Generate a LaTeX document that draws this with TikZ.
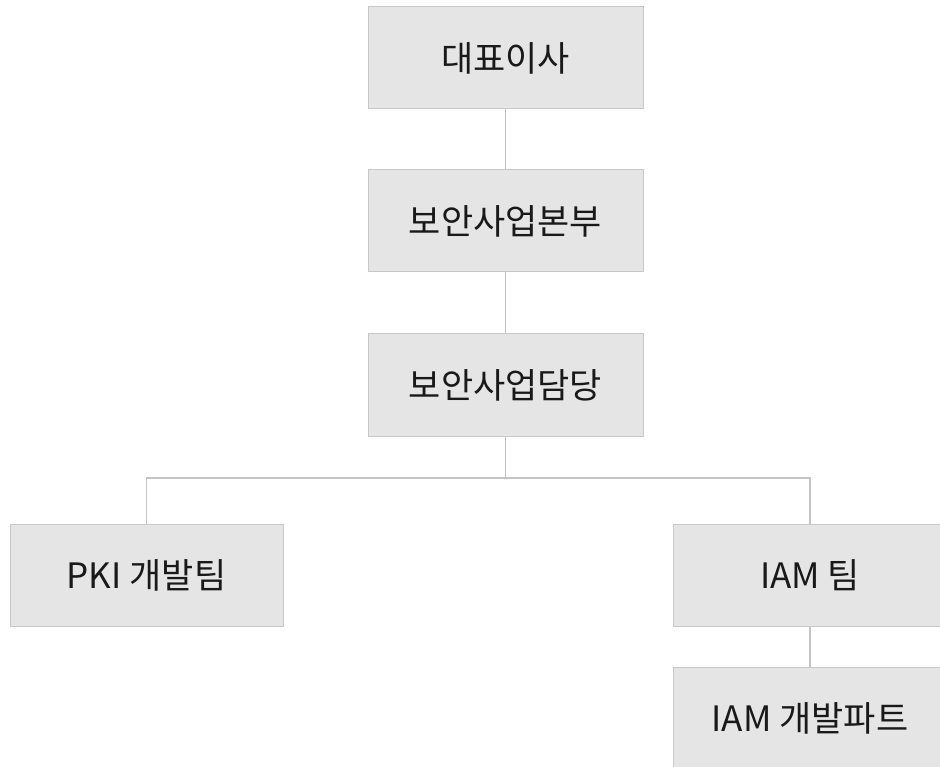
\documentclass[tikz,border=0pt]{standalone}
\usepackage{fontspec}
\setmainfont{Noto Sans CJK KR}
\definecolor{boxfill}{HTML}{E6E5E6}
\definecolor{boxline}{HTML}{C8C8C8}
\definecolor{conline}{HTML}{C4C4C4}
\begin{document}
\begin{tikzpicture}[x=1pt,y=-1pt,
  orgbox/.style={rectangle, fill=boxfill, draw=boxline, line width=1pt,
    minimum width=275pt, minimum height=102pt, inner sep=0pt,
    font=\fontsize{35}{40}\selectfont, text=black!90},
  conn/.style={draw=conline, line width=1.2pt}]
\useasboundingbox (0,0) rectangle (940,767);
\fill[white] (0,0) rectangle (940,767);
\clip (0,0) rectangle (940,767);
\node[orgbox] (ceo) at (505.5,58) {대표이사};
\node[orgbox] (hq) at (505.5,221) {보안사업본부};
\node[orgbox] (mgr) at (505.5,385) {보안사업담당};
\node[orgbox, minimum width=273pt] (pki) at (146.5,575.5) {PKI 개발팀};
\node[orgbox, minimum width=273pt] (iam) at (810,575.5) {IAM 팀};
\node[orgbox, minimum width=273pt] (iamdev) at (810,718) {IAM 개발파트};
\coordinate (bus) at (505.5,478);
\draw[conn] (ceo.south) -- (hq.north);
\draw[conn] (hq.south) -- (mgr.north);
\draw[conn] (mgr.south) -- (bus);
\draw[conn] (pki.north) |- (bus);
\draw[conn] (iam.north) |- (bus);
\draw[conn] (iam.south) -- (iamdev.north);
\end{tikzpicture}
\end{document}
